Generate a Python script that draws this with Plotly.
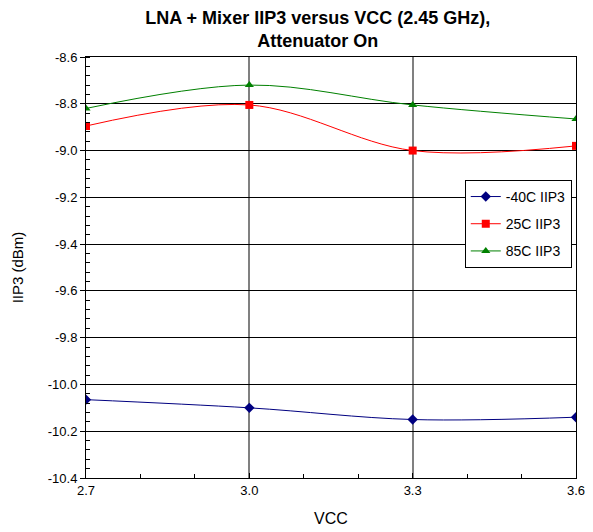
import plotly.graph_objects as go

vcc = [2.7, 3.0, 3.3, 3.6]
iip3_m40 = [-10.065, -10.10, -10.15, -10.14]
iip3_25 = [-8.895, -8.805, -9.00, -8.98]
iip3_85 = [-8.82, -8.72, -8.805, -8.865]
y_ticks = [-8.6, -8.8, -9.0, -9.2, -9.4, -9.6, -9.8, -10.0, -10.2, -10.4]
x_ticks = [2.7, 3.0, 3.3, 3.6]

fig = go.Figure()
series = [
    ("-40C IIP3", iip3_m40, "#000080", "diamond", 8),
    ("25C IIP3", iip3_25, "#ff0000", "square", 8),
    ("85C IIP3", iip3_85, "#008000", "triangle-up", 8),
]
for name, ys, col, sym, sz in series:
    fig.add_trace(go.Scatter(x=vcc, y=ys, name=name, legendgroup=name, mode="lines+markers",
                             line=dict(color=col, width=1, shape="spline", smoothing=1.0),
                             marker=dict(symbol=sym, size=sz, color=col)))

fig.update_layout(
    width=593, height=532,
    paper_bgcolor="white", plot_bgcolor="white",
    font=dict(family="Liberation Sans, Arial", size=13, color="black"),
    title=dict(text="<b>LNA + Mixer IIP3 versus VCC (2.45 GHz),<br>Attenuator On</b>",
               xref="paper", x=0.473, xanchor="center",
               yref="container", y=0.955, yanchor="top", font=dict(size=18)),
    margin=dict(l=86, r=17, t=57, b=54, autoexpand=False),
    xaxis=dict(range=[2.7, 3.6], tickvals=x_ticks, ticktext=[f"{v:.1f}" for v in x_ticks],
               showgrid=True, gridcolor="#808080", gridwidth=2,
               showline=True, linecolor="black", linewidth=1, mirror=True,
               ticks="inside", ticklen=5, tickcolor="black",
               minor=dict(dtick=0.1, ticks="inside", ticklen=4, tickcolor="black", showgrid=False),
               zeroline=False, automargin=False,
               title=dict(text="VCC", font=dict(size=16), standoff=16)),
    yaxis=dict(range=[-10.4, -8.6], tickvals=y_ticks, ticktext=[f"{v:.1f}" for v in y_ticks],
               showgrid=True, gridcolor="black", gridwidth=1,
               showline=True, linecolor="black", linewidth=1, mirror=True,
               ticks="outside", ticklen=5, tickcolor="black",
               minor=dict(dtick=0.04, ticks="inside", ticklen=4, tickcolor="black", showgrid=False),
               zeroline=False, automargin=False,
               title=dict(text="IIP3 (dBm)", font=dict(size=15), standoff=20)),
    legend=dict(x=0.773, y=0.708, xanchor="left", yanchor="top",
                bgcolor="white", bordercolor="black", borderwidth=1,
                font=dict(size=14), traceorder="grouped", tracegroupgap=6),
    showlegend=True,
)

fig.write_html("out.html", config={"displayModeBar": False},
               post_script="document.body.style.margin='0';")
